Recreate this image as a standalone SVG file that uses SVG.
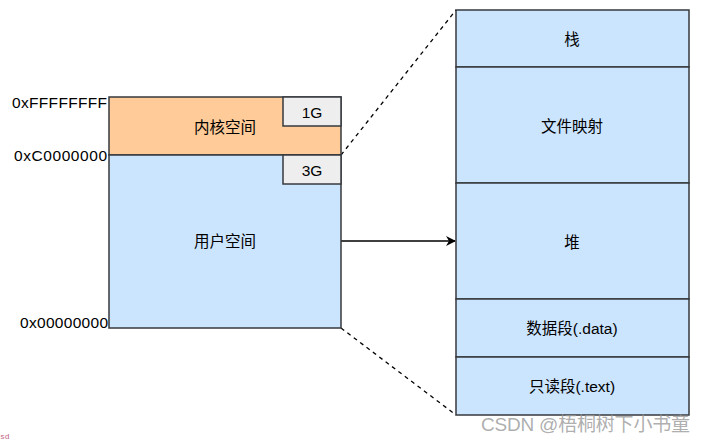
<svg xmlns="http://www.w3.org/2000/svg" width="707" height="442" viewBox="0 0 707 442">
<defs>
<style>
.t{font-family:"Liberation Sans","Noto Sans CJK SC",sans-serif;font-size:15.5px;fill:#000;}
.c{text-anchor:middle;dominant-baseline:central;}
.box{stroke:#36393d;stroke-width:1.5;}
.blue{fill:#cce5ff;}
.org{fill:#ffcc99;}
.gry{fill:#eeeeee;}
</style>
<marker id="ah" viewBox="0 0 10 10" refX="9" refY="5" markerWidth="10" markerHeight="10" markerUnits="userSpaceOnUse" orient="auto"><path d="M0,0 L10,5 L0,10 L3,5 Z" fill="#000"/></marker>
</defs>
<rect width="707" height="442" fill="#fff"/>
<g id="connectors" fill="none" stroke="#000" stroke-width="1.3">
<line x1="341" y1="155" x2="456" y2="10" stroke-dasharray="4,4"/>
<line x1="341" y1="328" x2="456" y2="415" stroke-dasharray="4,4"/>
<line x1="341" y1="241" x2="455" y2="241" marker-end="url(#ah)"/>
</g>
<g id="kernel"><rect class="box org" x="109" y="97" width="232" height="58"/><text class="t c" x="225" y="127">内核空间</text></g>
<g id="user"><rect class="box blue" x="109" y="155" width="232" height="173"/><text class="t c" x="225" y="241">用户空间</text></g>
<g id="g1"><rect class="box gry" x="283" y="97" width="58" height="29"/><text class="t c" x="312" y="112">1G</text></g>
<g id="g3"><rect class="box gry" x="283" y="155" width="58" height="29"/><text class="t c" x="312" y="170">3G</text></g>
<g id="addr">
<text class="t" x="107" y="108" text-anchor="end" textLength="95">0xFFFFFFFF</text>
<text class="t" x="107" y="161" text-anchor="end" textLength="93">0xC0000000</text>
<text class="t" x="108" y="328" text-anchor="end" textLength="88">0x00000000</text>
</g>
<g id="stack"><rect class="box blue" x="456" y="10" width="233" height="57"/><text class="t c" x="572" y="39">栈</text></g>
<g id="mmap"><rect class="box blue" x="456" y="67" width="233" height="116"/><text class="t c" x="572" y="126">文件映射</text></g>
<g id="heap"><rect class="box blue" x="456" y="183" width="233" height="116"/><text class="t c" x="572" y="242">堆</text></g>
<g id="data"><rect class="box blue" x="456" y="299" width="233" height="58"/><text class="t c" x="572" y="328">数据段(.data)</text></g>
<g id="text"><rect class="box blue" x="456" y="357" width="233" height="58"/><text class="t c" x="572" y="386">只读段(.text)</text></g>
<text x="481" y="431" font-family="Liberation Sans,'Noto Sans CJK SC',sans-serif" font-size="19" fill="#999" fill-opacity="0.8" textLength="209">CSDN @梧桐树下小书童</text>
<text x="0" y="439" font-family="Liberation Mono,monospace" font-size="8" fill="#c06080">sd</text>
</svg>
